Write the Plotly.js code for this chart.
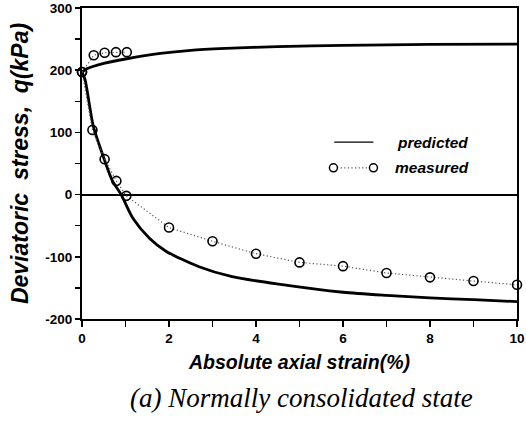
<!DOCTYPE html>
<html>
<head>
<meta charset="utf-8">
<script src="https://cdn.plot.ly/plotly-3.0.1.min.js"></script>
<style>
  html, body { margin: 0; padding: 0; background: #fff; }
  #chart { width: 526px; height: 425px; }
</style>
</head>
<body>
<div id="chart"></div>
<script>
// Predicted curves
var predCompX = [0, 0.1, 0.25, 0.5, 1, 1.8, 2.5, 3.3, 4.5, 6, 8, 10];
var predCompY = [197, 202, 206, 211, 218, 227, 232, 235, 238, 240, 241.5, 242];
var predExtX = [0, 0.07, 0.26, 0.52, 0.7, 0.9, 1.17, 1.55, 1.93, 2.69, 3.45, 4.52, 6, 7, 8, 9, 10];
var predExtY = [197, 185, 110, 55, 22, 0, -38, -70, -91, -116, -132, -144, -157, -162, -166, -169, -172];
// Measured points
var measCompX = [0, 0.27, 0.52, 0.78, 1.03];
var measCompY = [197, 224, 228, 229, 229];
var measExtX = [0, 0.24, 0.52, 0.79, 1.02, 2, 3, 4, 5, 6, 7, 8, 9, 10];
var measExtY = [197, 104, 57, 22, -2, -53, -75, -95, -109, -115, -126, -133, -139, -145];
// Tick labels
var xTickVals = [0, 2, 4, 6, 8, 10];
var xTickText = ['0', '2', '4', '6', '8', '10'];
var yTickVals = [-200, -100, 0, 100, 200, 300];
var yTickText = ['-200', '-100', '0', '100', '200', '300'];

var predLine = {color: '#000', width: 2.8, shape: 'spline', smoothing: 0.7};
var measLine = {color: '#555', width: 1.2, dash: '1.2px,2.4px'};
var measMarker = {symbol: 'circle-open', size: 9, color: '#000', line: {width: 1.6, color: '#000'}};

var traces = [
  {x: predCompX, y: predCompY, mode: 'lines', line: predLine, showlegend: false, cliponaxis: false},
  {x: predExtX, y: predExtY, mode: 'lines', line: predLine, showlegend: false, cliponaxis: false},
  {x: measCompX, y: measCompY, mode: 'lines+markers', line: measLine, marker: measMarker, showlegend: false, cliponaxis: false},
  {x: measExtX, y: measExtY, mode: 'lines+markers', line: measLine, marker: measMarker, showlegend: false, cliponaxis: false}
];

var sans = 'Liberation Sans, Arial, sans-serif';
var tickFont = {family: sans, size: 13.5, color: '#000', weight: 'bold'};

var layout = {
  width: 526, height: 425,
  margin: {l: 82, r: 9, t: 8, b: 106},
  paper_bgcolor: '#fff', plot_bgcolor: '#fff',
  showlegend: false,
  xaxis: {
    range: [0, 10], showgrid: false, zeroline: false,
    showline: true, linecolor: '#000', linewidth: 2, mirror: true,
    ticks: 'outside', ticklen: 6, tickwidth: 1.5, tickcolor: '#000',
    tickvals: xTickVals, ticktext: xTickText, tickfont: tickFont,
    ticklabeloverflow: 'allow',
    minor: {dtick: 1, ticks: 'outside', ticklen: 6, tickwidth: 1.5, tickcolor: '#000', showgrid: false},
    title: {text: 'Absolute axial strain(%)', standoff: 10,
            font: {family: sans, size: 19.5, color: '#000', weight: 'bold', style: 'italic'}}
  },
  yaxis: {
    range: [-200, 300], showgrid: false,
    zeroline: true, zerolinecolor: '#000', zerolinewidth: 2,
    showline: true, linecolor: '#000', linewidth: 2, mirror: true,
    ticks: 'outside', ticklen: 5, tickwidth: 1.5, tickcolor: '#000',
    tickvals: yTickVals, ticktext: yTickText, tickfont: tickFont,
    ticklabeloverflow: 'allow',
    minor: {dtick: 50, ticks: 'outside', ticklen: 5, tickwidth: 1.5, tickcolor: '#000', showgrid: false},
    title: {text: 'Deviatoric  stress,  q(kPa)', standoff: 10,
            font: {family: sans, size: 23, color: '#000', weight: 'bold', style: 'italic'}}
  },
  shapes: [
    {type: 'line', xref: 'paper', yref: 'paper', x0: 0.58, x1: 0.67, y0: 0.569, y1: 0.569, line: {color: '#000', width: 1.2}},
    {type: 'line', xref: 'paper', yref: 'paper', x0: 0.578, x1: 0.67, y0: 0.486, y1: 0.486, line: {color: '#555', width: 1.2, dash: '1.2px,2.4px'}},
    {type: 'circle', xref: 'paper', yref: 'paper', xsizemode: 'pixel', ysizemode: 'pixel', xanchor: 0.578, yanchor: 0.486, x0: -4, x1: 4, y0: -4, y1: 4, fillcolor: '#fff', line: {color: '#000', width: 1.5}},
    {type: 'circle', xref: 'paper', yref: 'paper', xsizemode: 'pixel', ysizemode: 'pixel', xanchor: 0.67, yanchor: 0.486, x0: -4, x1: 4, y0: -4, y1: 4, fillcolor: '#fff', line: {color: '#000', width: 1.5}}
  ],
  annotations: [
    {xref: 'paper', yref: 'paper', x: 0.72, y: 0.569, xanchor: 'left', yanchor: 'middle', showarrow: false, text: 'predicted',
     font: {family: sans, size: 15.5, color: '#000', weight: 'bold', style: 'italic'}},
    {xref: 'paper', yref: 'paper', x: 0.715, y: 0.486, xanchor: 'left', yanchor: 'middle', showarrow: false, text: 'measured',
     font: {family: sans, size: 15.5, color: '#000', weight: 'bold', style: 'italic'}},
    {xref: 'paper', yref: 'paper', x: 0.505, y: -0.255, xanchor: 'center', yanchor: 'middle', showarrow: false,
     text: '(a) Normally consolidated state',
     font: {family: 'Liberation Serif, Times New Roman, serif', size: 27, color: '#000', style: 'italic'}}
  ]
};

Plotly.newPlot('chart', traces, layout, {staticPlot: true, displayModeBar: false});
</script>
</body>
</html>
